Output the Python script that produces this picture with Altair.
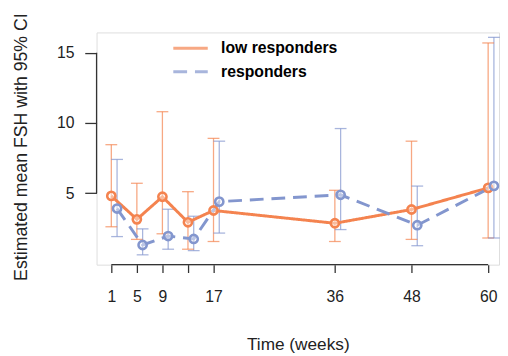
import altair as alt
import pandas as pd

# ---- data ----
weeks = [1, 5, 9, 13, 17, 36, 48, 60]
hidden_label_week = 13
y_ticks = [5, 10, 15]
groups = ["low responders", "responders"]

low_mean = [4.8, 3.13, 4.74, 2.92, 3.76, 2.85, 3.83, 5.37]
low_lo = [2.6, 1.7, 2.1, 1.0, 1.55, 1.55, 1.7, 1.8]
low_hi = [8.45, 5.7, 10.8, 5.1, 8.9, 5.2, 8.7, 15.7]

resp_mean = [3.9, 1.3, 1.94, 1.73, 4.39, 4.88, 2.71, 5.51]
resp_lo = [1.9, 0.6, 1.0, 0.9, 2.15, 2.4, 1.25, 1.8]
resp_hi = [7.4, 2.45, 3.85, 3.35, 8.7, 9.6, 5.5, 16.1]

dodge = {"low responders": 0.0, "responders": 0.9}

rows = []
for g, m, lo, hi in [(groups[0], low_mean, low_lo, low_hi),
                     (groups[1], resp_mean, resp_lo, resp_hi)]:
    for w, a, b, c in zip(weeks, m, lo, hi):
        rows.append({"group": g, "week": w, "xpos": w + dodge[g],
                     "mean": a, "lo": b, "hi": c})
df = pd.DataFrame(rows)

# ---- styling ----
ORANGE = "#F4834F"
BLUE = "#8396CE"
AXIS_COL = "#333333"
TXT = "#222222"
FONT = "Liberation Sans"
YTITLE = "Estimated mean FSH with 95% CI"

x_domain = [-1.31, 61.7]
y_domain = [-0.1, 16.45]

xscale = alt.Scale(domain=x_domain, nice=False, zero=False)
yscale = alt.Scale(domain=y_domain, nice=False, zero=False)

xaxis = alt.Axis(values=weeks,
                 labelExpr=f"datum.value == {hidden_label_week} ? '' : datum.label",
                 domain=False, grid=False, tickSize=8, tickWidth=1.3,
                 tickColor=AXIS_COL, labelFontSize=16, labelPadding=16,
                 labelColor=TXT, labelFont=FONT, labelFlush=False,
                 labelOverlap=False, titleFont=FONT, titleFontSize=17.5,
                 titleFontWeight="normal", titleColor=TXT, titleY=81,
                 titleBaseline="middle")
yaxis = alt.Axis(values=y_ticks, domain=False, grid=False, tickSize=12,
                 tickWidth=1.3, tickColor=AXIS_COL, labelFontSize=16,
                 labelPadding=11, labelColor=TXT, labelFont=FONT,
                 titleFont=FONT, titleFontSize=18, titleFontWeight="normal",
                 titleColor=TXT, titleX=-76, titleY=116, titleBaseline="middle",
                 titleAlign="center")

X = alt.X("xpos:Q", scale=xscale, axis=xaxis, title="Time (weeks)")
Y = alt.Y("mean:Q", scale=yscale, axis=yaxis, title=YTITLE)
Ylo = alt.Y("lo:Q", scale=yscale, axis=yaxis, title=YTITLE)
Yhi = alt.Y("hi:Q", scale=yscale, axis=yaxis, title=YTITLE)

leg = alt.Legend(title=None, orient="none", legendX=76.5, legendY=10,
                 symbolType="stroke", symbolSize=1225, symbolStrokeWidth=3,
                 labelFontSize=16, labelFontWeight="bold", labelFont=FONT,
                 labelColor="black", labelOffset=12, clipHeight=12,
                 rowPadding=8)

color = alt.Color("group:N", scale=alt.Scale(domain=groups, range=[ORANGE, BLUE]),
                  legend=leg)
dash = alt.StrokeDash("group:N",
                      scale=alt.Scale(domain=groups, range=[[1, 0], [14, 8]]),
                      legend=leg)

base = alt.Chart(df)

err = base.mark_rule(strokeWidth=1.3, opacity=0.7).encode(
    x=X, y=Ylo, y2="hi:Q", color=color)
cap_lo = base.mark_tick(orient="horizontal", size=12, thickness=1.3,
                        opacity=0.7).encode(x=X, y=Ylo, color=color)
cap_hi = base.mark_tick(orient="horizontal", size=12, thickness=1.3,
                        opacity=0.7).encode(x=X, y=Yhi, color=color)

lines = base.mark_line(strokeWidth=3).encode(
    x=X, y=Y, color=color, strokeDash=dash, detail="group:N",
    order="week:Q")

pts = base.mark_point(shape="circle", filled=False, size=70, strokeWidth=2.6,
                      fill="white", fillOpacity=0.45, opacity=1).encode(
    x=X, y=Y, color=alt.Color("group:N",
                              scale=alt.Scale(domain=groups, range=[ORANGE, BLUE]),
                              legend=None))

axis_df = pd.DataFrame({"k": [0]})
yline = alt.Chart(axis_df).mark_rule(color=AXIS_COL, strokeWidth=1.3).encode(
    x=alt.datum(x_domain[0]), y=alt.datum(min(y_ticks)), y2=alt.datum(max(y_ticks)))
xline = alt.Chart(axis_df).mark_rule(color=AXIS_COL, strokeWidth=1.3).encode(
    x=alt.datum(min(weeks)), x2=alt.datum(max(weeks)), y=alt.datum(y_domain[0]))

chart = alt.layer(err, cap_lo, cap_hi, lines, pts, yline, xline).properties(
    width=409, height=236,
    padding={"left": 90, "top": 22, "right": 1, "bottom": 90},
    autosize=alt.AutoSizeParams(type="none"),
).configure_view(stroke=None).configure(background="white")

chart.save("out.html", embed_options={"renderer": "svg", "actions": False})
